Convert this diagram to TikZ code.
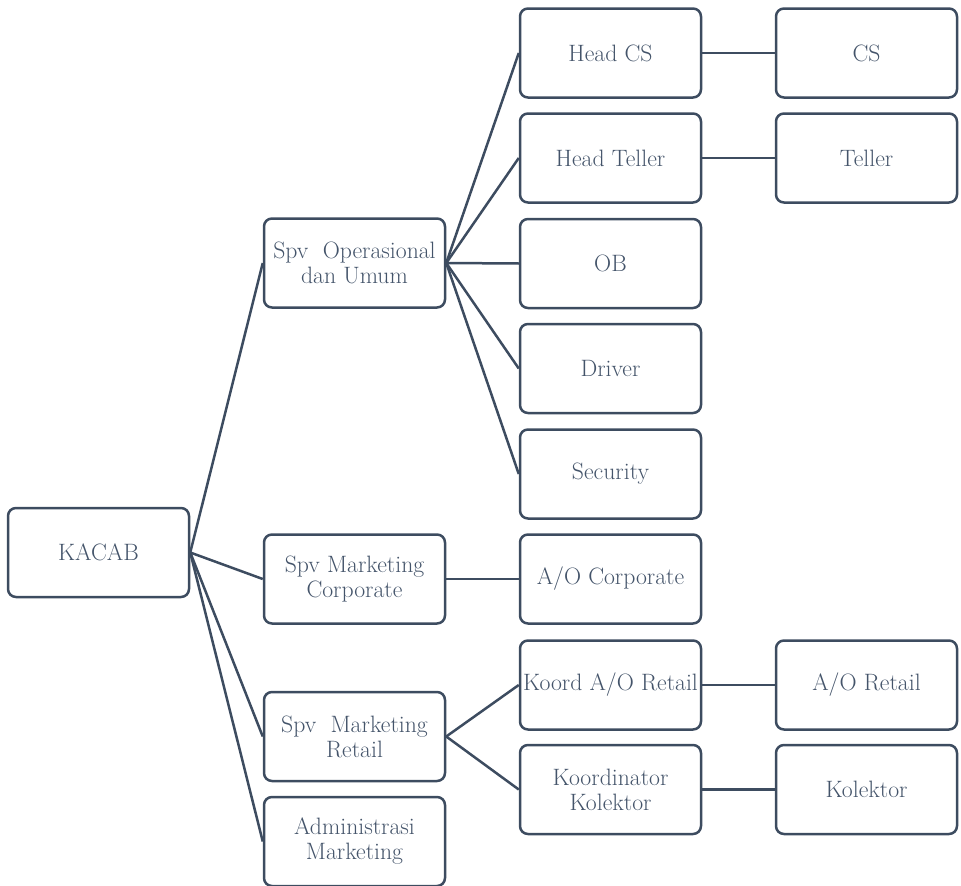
\documentclass[tikz,border=0pt]{standalone}
\usepackage{tikz}
\usepackage{color}
\definecolor{slate}{HTML}{44546A}
\definecolor{slateline}{HTML}{3D4C60}
\tikzset{
  unit/.style={draw=slateline, line width=2.5pt, rounded corners=8pt,
    minimum width=181pt, minimum height=89pt, inner sep=2pt,
    align=center, text=slate, font=\fontsize{23.7}{25}\selectfont},
  link/.style={draw=slateline, line width=2.5pt}
}

\begin{document}
\begin{tikzpicture}[x=1pt,y=-1pt]
\useasboundingbox (0,0) rectangle (961,886);
\newcommand{\colb}{354.5}
\newcommand{\colc}{610.5}
\newcommand{\cold}{866.5}
\node[unit] (kacab) at (98.5,552.5) {KACAB};
\node[unit] (opr) at (\colb,263) {Spv\ \ Operasional\\dan Umum};
\node[unit] (corp) at (\colb,579) {Spv Marketing\\Corporate};
\node[unit] (ret) at (\colb,736.5) {Spv\ \ Marketing\\Retail};
\node[unit] (adm) at (\colb,841.5) {Administrasi\\Marketing};
% bawahan operasional
\foreach \nm/\txt/\y in {headcs/Head CS/53, headteller/Head Teller/158, ob/OB/263.5, driver/Driver/368.5, security/Security/474}
  {
    \node[unit] (\nm) at (\colc,\y) {\txt};
    \draw[link] (opr.east) -- (\nm.west);
  }
\node[unit] (aocorp) at (\colc,579) {A/O Corporate};
\node[unit] (koord) at (\colc,685) {Koord A/O Retail};
\node[unit] (koorkol) at (\colc,789.5) {Koordinator\\Kolektor};
\node[unit] (cs) at (\cold,53) {CS};
\node[unit] (teller) at (\cold,158) {Teller};
\node[unit] (aoretail) at (\cold,685) {A/O Retail};
\node[unit] (kolektor) at (\cold,789.5) {Kolektor};
\foreach \b in {opr,corp,ret,adm}
  {
    \draw[link] (kacab.east) -- (\b.west);
  }
\draw[link] (corp) -- (aocorp);
\draw[link] (ret.east) -- (koord.west);
\draw[link] (ret.east) -- (koorkol.west);
\draw[link] (headcs) -- (cs);
\draw[link] (headteller) -- (teller);
\draw[link] (koord) -- (aoretail);
\draw[link] (koorkol) -- (kolektor);
\end{tikzpicture}
\end{document}
